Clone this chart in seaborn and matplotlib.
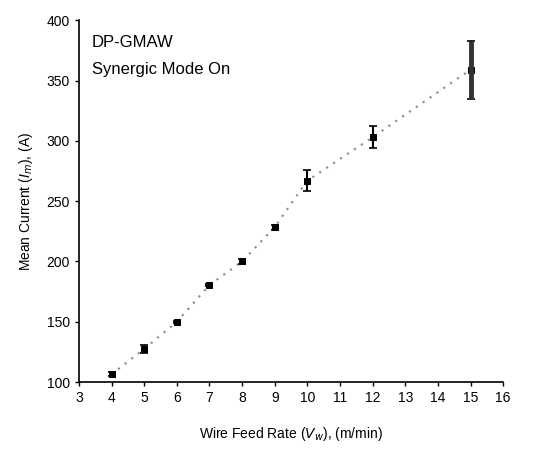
import matplotlib
matplotlib.use("Agg")
import matplotlib.pyplot as plt
import seaborn as sns
import pandas as pd

wire_feed = [4, 5, 6, 7, 8, 9, 10, 12, 15]
mean_current = [106.5, 127.5, 150, 180.5, 200, 228.5, 267, 303, 359]
current_err = [1.5, 3, 1, 1, 2, 2, 8.5, 9, 24]

sns.set_theme(style="ticks")
plt.rcParams['font.family'] = ['Liberation Sans', 'DejaVu Sans']
plt.rcParams['text.color'] = 'black'
plt.rcParams['axes.labelcolor'] = 'black'
plt.rcParams['xtick.color'] = 'black'
plt.rcParams['ytick.color'] = 'black'

df = pd.DataFrame({"x": wire_feed, "y": mean_current, "err": current_err})

fig = plt.figure(figsize=(5.37, 4.49), dpi=100)
ax = fig.add_axes([0.147, 0.149, 0.79, 0.806])

sns.lineplot(data=df, x="x", y="y", ax=ax, color="#888888", linestyle=(0, (1, 3)),
             linewidth=1.5, marker="s", markersize=5, markerfacecolor="black",
             markeredgecolor="black")
ax.errorbar(df["x"], df["y"], yerr=df["err"], fmt="none", ecolor="black",
            elinewidth=1.5, capsize=3, capthick=1.2)
# thicker bar at the last point
ax.errorbar(df["x"].iloc[-1:], df["y"].iloc[-1:], yerr=df["err"].iloc[-1:], fmt="none",
            ecolor="#333333", elinewidth=3.5, capsize=0)

ax.set_xlim(3, 16)
ax.set_ylim(100, 400)
ax.set_xticks(range(3, 17))
ax.set_yticks(range(100, 401, 50))
ax.tick_params(axis="both", labelsize=10, length=3, width=1, color="black",
               labelcolor="black", direction="out")
ax.set_xlabel("Wire Feed Rate ($V_w$), (m/min)", fontsize=10, labelpad=14, color="black")
ax.set_ylabel("Mean Current ($I_m$), (A)", fontsize=10, labelpad=8, color="black")
for s in ["top", "right"]:
    ax.spines[s].set_visible(False)
for s in ["left", "bottom"]:
    ax.spines[s].set_color("black")
    ax.spines[s].set_linewidth(1.2)

ax.text(0.03, 0.96, "DP-GMAW", transform=ax.transAxes, fontsize=12, va="top", ha="left",
        color="black")
ax.text(0.03, 0.885, "Synergic Mode On", transform=ax.transAxes, fontsize=12, va="top",
        ha="left", color="black")

fig.savefig("out.png", dpi=100)
